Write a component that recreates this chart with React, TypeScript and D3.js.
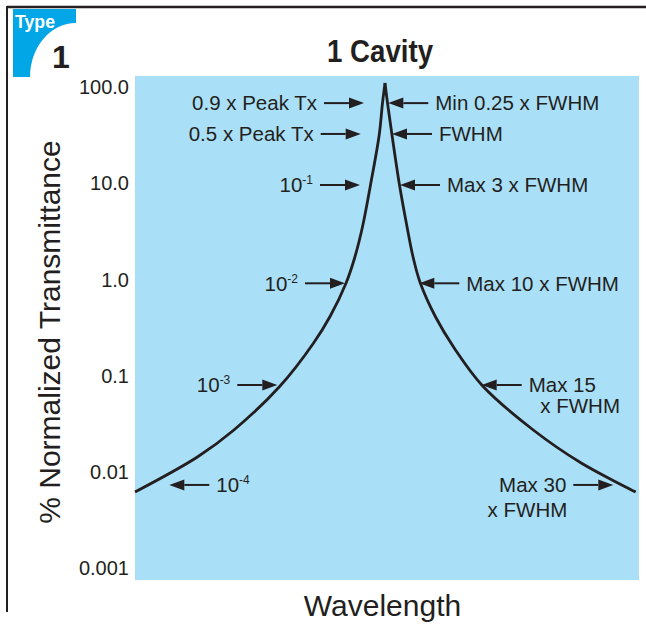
import React from 'react';
import * as d3 from 'd3';

// ---- data ----
const yTickValues = [100, 10, 1, 0.1, 0.01, 0.001];
const yTickLabels = ['100.0', '10.0', '1.0', '0.1', '0.01', '0.001'];

// wavelength offset from centre (arbitrary units) and % normalized transmittance
const leftOffset = [-250, -187.6, -151.1, -104.9, -71.4, -54.7, -38.9, -30.4, -22.1, -14.5, -5.8, -2.5, 0];
const leftTrans = [0.006166, 0.01425, 0.0272, 0.07795, 0.2183, 0.4164, 0.9175, 1.669, 3.678, 9.58, 31.7, 68.2, 110];
const rightOffset = [0, 2.5, 7, 14.5, 21.7, 28.3, 35.3, 50.6, 69.2, 97.7, 148.3, 196.2, 250.7];
const rightTrans = [110, 68.2, 31.7, 9.58, 3.678, 1.669, 0.9175, 0.4066, 0.1936, 0.07795, 0.0272, 0.01234, 0.006166];

const title = '1 Cavity';
const xTitle = 'Wavelength';
const yTitle = '% Normalized Transmittance';

type Line = { t: string; sup?: string; dx?: number; dy?: number };
type Ann = { lines: Line[]; level: number; tip: number; dir: 'right' | 'left' };

const annotations: Ann[] = [
  { lines: [{ t: '0.9 x Peak Tx' }], level: 68, tip: -21, dir: 'right' },
  { lines: [{ t: '0.5 x Peak Tx' }], level: 32.5, tip: -24.3, dir: 'right' },
  { lines: [{ t: '10', sup: '-1' }], level: 9.58, tip: -25, dir: 'right' },
  { lines: [{ t: '10', sup: '-2' }], level: 0.911, tip: -40, dir: 'right' },
  { lines: [{ t: '10', sup: '-3' }], level: 0.0798, tip: -107.7, dir: 'right' },
  { lines: [{ t: '10', sup: '-4' }], level: 0.0073, tip: -215.7, dir: 'left' },
  { lines: [{ t: 'Min 0.25 x FWHM' }], level: 68, tip: 3.3, dir: 'left' },
  { lines: [{ t: 'FWHM' }], level: 32.5, tip: 7, dir: 'left' },
  { lines: [{ t: 'Max 3 x FWHM' }], level: 9.58, tip: 15, dir: 'left' },
  { lines: [{ t: 'Max 10 x FWHM' }], level: 0.911, tip: 34.3, dir: 'left' },
  { lines: [{ t: 'Max 15' }, { t: 'x FWHM', dx: 11.6, dy: 21 }], level: 0.0798, tip: 96.7, dir: 'left' },
  { lines: [{ t: 'Max 30' }, { t: 'x FWHM', dx: 1, dy: 25 }], level: 0.0073, tip: 228.3, dir: 'right' },
];

// ---- layout / style ----
const W = 646;
const H = 626;
const INK = '#231f20';
const PLOT_BG = '#aadff8';
const BADGE = '#00a6e6';
const FONT = "'Liberation Sans', Arial, sans-serif";
const ANN_SIZE = 20.5;

const xScale = d3.scaleLinear().domain([-250, 254]).range([135, 639]);
const yScale = d3.scaleLog().domain([0.001, 100]).range([568, 87]);

const lineGen = d3
  .line<[number, number]>()
  .x((d) => xScale(d[0]))
  .y((d) => yScale(d[1]))
  .curve(d3.curveCatmullRom.alpha(0.5));

const leftData: [number, number][] = leftOffset.map((x, i) => [x, leftTrans[i]]);
const rightData: [number, number][] = rightOffset.map((x, i) => [x, rightTrans[i]]);

function Arrow({ tipX, y, dir }: { tipX: number; y: number; dir: 'right' | 'left' }) {
  const len = 40;
  const headL = 15;
  const headW = 5.5;
  const s = dir === 'right' ? -1 : 1;
  const tailX = tipX + s * len;
  const baseX = tipX + s * headL;
  return (
    <g>
      <line x1={tailX} y1={y} x2={baseX} y2={y} stroke={INK} strokeWidth={2} />
      <polygon points={`${tipX},${y} ${baseX},${y - headW} ${baseX},${y + headW}`} fill={INK} />
    </g>
  );
}

function Label({ line, x, y, anchor }: { line: Line; x: number; y: number; anchor: 'start' | 'end' }) {
  return (
    <text x={x} y={y + ANN_SIZE * 0.36} textAnchor={anchor} fontSize={ANN_SIZE} fill={INK} fontFamily={FONT}>
      {line.t}
      {line.sup ? (
        <tspan fontSize={12} dy={-8}>
          {line.sup}
        </tspan>
      ) : null}
    </text>
  );
}

export default function App() {
  const plotX0 = xScale.range()[0];
  const plotX1 = xScale.range()[1];
  const plotY0 = yScale(100) - 11;
  const plotY1 = yScale(0.001) + 12;

  return (
    <svg
      width={W}
      height={H}
      viewBox={`0 0 ${W} ${H}`}
      style={{ position: 'absolute', left: 0, top: 0, background: '#fff' }}
      fontFamily={FONT}
    >
      {/* frame */}
      <line x1={7} y1={7} x2={W} y2={7} stroke={INK} strokeWidth={2.5} />
      <line x1={7} y1={6} x2={7} y2={612} stroke={INK} strokeWidth={2} />

      {/* badge */}
      <path d="M13,9 L76,9 L76,23 A46,54 0 0 0 30,77 L13,77 Z" fill={BADGE} />
      <text x={15} y={28} fill="#fff" fontWeight="bold" fontSize={19} textLength={40} lengthAdjust="spacingAndGlyphs">
        Type
      </text>
      <text x={61} y={68} fill={INK} fontWeight="bold" fontSize={32} textAnchor="middle">
        1
      </text>

      {/* title */}
      <text x={380} y={62} fill={INK} fontWeight="bold" fontSize={32} textAnchor="middle" textLength={106} lengthAdjust="spacingAndGlyphs">
        {title}
      </text>

      {/* plot background */}
      <rect x={plotX0} y={plotY0} width={plotX1 - plotX0} height={plotY1 - plotY0} fill={PLOT_BG} />

      {/* y ticks */}
      {yTickValues.map((v, i) => (
        <text key={v} x={129} y={yScale(v) + 20 * 0.36} textAnchor="end" fontSize={20} fill={INK}>
          {yTickLabels[i]}
        </text>
      ))}

      {/* axis titles */}
      <text transform="translate(60,332) rotate(-90)" textAnchor="middle" fontSize={30} fill={INK}>
        {yTitle}
      </text>
      <text x={382.5} y={616} textAnchor="middle" fontSize={30} fill={INK}>
        {xTitle}
      </text>

      {/* curve */}
      <path d={lineGen(leftData) || ''} fill="none" stroke={INK} strokeWidth={2.8} />
      <path d={lineGen(rightData) || ''} fill="none" stroke={INK} strokeWidth={2.8} />

      {/* annotations */}
      {annotations.map((a, i) => {
        const tipX = xScale(a.tip);
        const y = yScale(a.level);
        const s = a.dir === 'right' ? -1 : 1;
        const tailX = tipX + s * 40;
        const textX = tailX + s * 7;
        const anchor = a.dir === 'right' ? 'end' : 'start';
        return (
          <g key={i}>
            <Arrow tipX={tipX} y={y} dir={a.dir} />
            {a.lines.map((ln, j) => (
              <Label key={j} line={ln} x={textX + (ln.dx || 0)} y={y + (ln.dy || 0)} anchor={anchor} />
            ))}
          </g>
        );
      })}
    </svg>
  );
}
